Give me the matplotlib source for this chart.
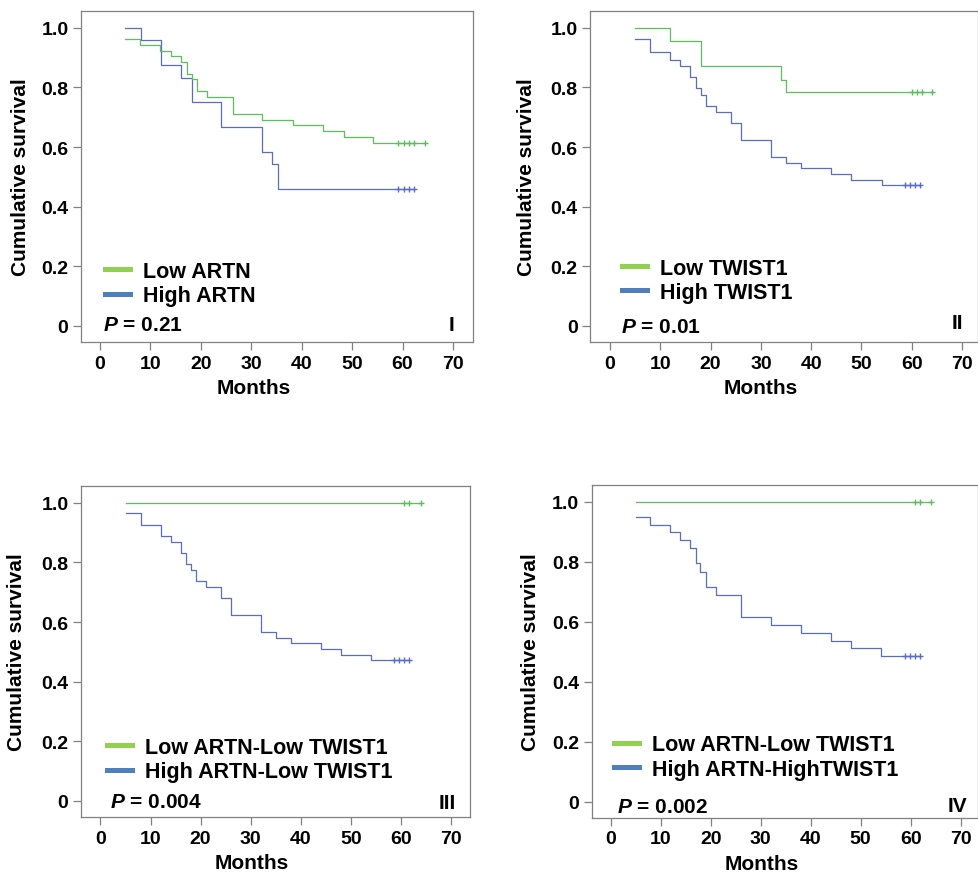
import numpy as np
import matplotlib
matplotlib.use('Agg')
import matplotlib.pyplot as plt
from matplotlib.lines import Line2D

plt.rcParams['font.family'] = ['Liberation Sans', 'DejaVu Sans']
plt.rcParams['font.weight'] = 'bold'
plt.rcParams['mathtext.fontset'] = 'custom'
plt.rcParams['mathtext.it'] = 'Liberation Sans:bold:italic'
plt.rcParams['mathtext.rm'] = 'Liberation Sans:bold'

# Kaplan-Meier curves (months, survival after each step)
# Panel I
low_artn_t = [5, 8, 12, 14, 16, 17.2, 18.2, 19.2, 21.2, 26.3, 32.2, 38.2, 44.2, 48.3, 54.2]
low_artn_s = [0.962, 0.942, 0.923, 0.904, 0.885, 0.846, 0.827, 0.788, 0.769, 0.712, 0.692, 0.673, 0.654, 0.635, 0.615]
low_artn_cens = [59.2, 60.2, 61.2, 62.2, 64.4]
high_artn_t = [5, 8.1, 12.1, 16.1, 18.2, 24.1, 32.2, 34.2, 35.3]
high_artn_s = [1.0, 0.958, 0.875, 0.833, 0.75, 0.667, 0.583, 0.542, 0.458]
high_artn_cens = [59.2, 60.2, 61.2, 62.2]

# Panel II
low_twist_t = [5, 12, 18, 34, 35]
low_twist_s = [1.0, 0.957, 0.870, 0.826, 0.783]
low_twist_cens = [60, 61, 62, 64]
high_twist_t = [5, 8, 12, 14, 16, 17, 18, 19, 21, 24, 26, 32, 35, 38, 44, 48, 54]
high_twist_s = [0.963, 0.920, 0.892, 0.872, 0.835, 0.798, 0.775, 0.737, 0.718, 0.679, 0.623, 0.567, 0.548, 0.528, 0.511, 0.491, 0.473]
high_twist_cens = [58.6, 59.6, 60.6, 61.6]

# Panel III
ll3_t = [5]
ll3_s = [1.0]
ll3_cens = [60.7, 61.7, 64]
hl3_t = [5, 8.1, 12.1, 14.1, 16, 17.1, 18.1, 19.1, 21.1, 24.1, 26.1, 32.1, 35.1, 38.1, 44.1, 48.1, 54]
hl3_s = [0.965, 0.924, 0.888, 0.868, 0.831, 0.793, 0.773, 0.736, 0.717, 0.680, 0.624, 0.566, 0.547, 0.529, 0.510, 0.491, 0.471]
hl3_cens = [58.7, 59.7, 60.7, 61.7]

# Panel IV
ll4_t = [5]
ll4_s = [1.0]
ll4_cens = [60.8, 61.8, 64]
hh4_t = [5, 7.9, 11.9, 13.9, 15.9, 17, 17.9, 19, 21, 26, 32, 38, 44, 48.1, 54.1]
hh4_s = [0.949, 0.923, 0.899, 0.871, 0.845, 0.795, 0.767, 0.717, 0.690, 0.617, 0.589, 0.562, 0.537, 0.511, 0.487]
hh4_cens = [58.8, 59.8, 60.8, 61.8]

labels = [['Low ARTN', 'High ARTN'],
          ['Low TWIST1', 'High TWIST1'],
          ['Low ARTN-Low TWIST1', 'High ARTN-Low TWIST1'],
          ['Low ARTN-Low TWIST1', 'High ARTN-HighTWIST1']]
p_values = ['0.21', '0.01', '0.004', '0.002']
numerals = ['I', 'II', 'III', 'IV']
x_ticks = [0, 10, 20, 30, 40, 50, 60, 70]
y_ticks = [0, 0.2, 0.4, 0.6, 0.8, 1.0]

GREEN = '#5cbf5c'
BLUE = '#5a6cc6'
LEG_GREEN = '#92d050'
LEG_BLUE = '#4f7fbf'
GRAY = '#808080'


def km(ax, t, s, cens, color):
    end = max(cens)
    ax.step(list(t) + [end], list(s) + [s[-1]], where='post', color=color, lw=0.9)
    idx = np.searchsorted(t, cens, side='right') - 1
    ax.plot(cens, np.array(s)[idx], '+', color=color, ms=5, mew=1.0)


fig = plt.figure(figsize=(9.79, 8.78), dpi=100)
rects = [[0.0827, 0.6093, 0.4004, 0.377],
         [0.6027, 0.6093, 0.3963, 0.377],
         [0.0827, 0.0683, 0.3973, 0.377],
         [0.6044, 0.0672, 0.3946, 0.3793]]
curves = [[(low_artn_t, low_artn_s, low_artn_cens), (high_artn_t, high_artn_s, high_artn_cens)],
          [(low_twist_t, low_twist_s, low_twist_cens), (high_twist_t, high_twist_s, high_twist_cens)],
          [(ll3_t, ll3_s, ll3_cens), (hl3_t, hl3_s, hl3_cens)],
          [(ll4_t, ll4_s, ll4_cens), (hh4_t, hh4_s, hh4_cens)]]
leg_pos = [(0.061, 0.177), (0.082, 0.187), (0.067, 0.174), (0.058, 0.183)]
p_pos = [(0.056, 0.054), (0.08, 0.048), (0.075, 0.048), (0.066, 0.036)]
num_pos = [(0.946, 0.054), (0.946, 0.06), (0.941, 0.045), (0.946, 0.039)]
ylab_x = [-0.13, -0.139, -0.141, -0.134]
xlims = [(-3.77, 73.97), (-3.98, 73.2), (-3.9, 73.8), (-3.86, 73.5)]

for i in range(4):
    ax = fig.add_axes(rects[i])
    (t1, s1, c1), (t2, s2, c2) = curves[i]
    # draw in the order the reference overlays them
    km(ax, t2, s2, c2, BLUE)
    km(ax, t1, s1, c1, GREEN)
    ax.set_xlim(*xlims[i])
    ax.set_ylim(-0.054, 1.056)
    ax.set_xticks(x_ticks)
    ax.set_yticks(y_ticks)
    ax.set_yticklabels(['0' if v == 0 else '%.1f' % v for v in y_ticks])
    for sp in ax.spines.values():
        sp.set_color(GRAY)
        sp.set_linewidth(0.9)
    ax.tick_params(direction='out', length=6, width=0.9, color=GRAY, labelsize=14, pad=3)
    for lab in ax.get_xticklabels() + ax.get_yticklabels():
        lab.set_fontweight('bold')
    ax.set_xlabel('Months', fontsize=15, fontweight='bold')
    ax.xaxis.set_label_coords(0.44, -0.109)
    ax.set_ylabel('Cumulative survival', fontsize=15, fontweight='bold')
    ax.yaxis.set_label_coords(ylab_x[i], 0.5)
    handles = [Line2D([], [], color=LEG_GREEN, lw=3.6), Line2D([], [], color=LEG_BLUE, lw=3.6)]
    ax.legend(handles, labels[i], loc='center left', bbox_to_anchor=leg_pos[i], frameon=False,
              prop={'size': 15.5, 'weight': 'bold'}, handlelength=1.15, handletextpad=0.6,
              labelspacing=0.15, borderpad=0, borderaxespad=0)
    ax.text(p_pos[i][0], p_pos[i][1], '$P$ = ' + p_values[i], transform=ax.transAxes,
            fontsize=15, fontweight='bold', ha='left', va='center')
    ax.text(num_pos[i][0], num_pos[i][1], numerals[i], transform=ax.transAxes,
            fontsize=15, fontweight='bold', ha='center', va='center')

fig.savefig('out.png', dpi=100)
